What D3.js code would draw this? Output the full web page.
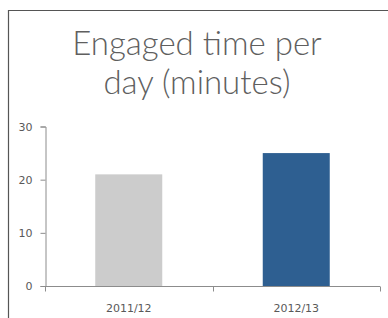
<!DOCTYPE html>
<html><head><meta charset="utf-8">
<script src="https://cdn.jsdelivr.net/npm/d3@7"></script>
<style>html,body{margin:0;padding:0;background:#fff;}svg{display:block;}</style>
</head><body>
<script>
const categories = ["2011/12", "2012/13"];
const values = [21, 25];
const colors = ["#cccccc", "#2e5f91"];
const yTicks = [0, 10, 20, 30];
const titleLines = ["Engaged time per", "day (minutes)"];

const W = 388, H = 318;
const svg = d3.select("body").append("svg").attr("width", W).attr("height", H);

// frame
svg.append("path").attr("d", `M8.5,${H+2} L8.5,10.5 L${W+2},10.5`)
  .attr("fill", "none").attr("stroke", "#555").attr("stroke-width", 1.2);

const title = svg.append("text").attr("text-anchor", "middle")
  .attr("font-family", "Lato, 'Open Sans', sans-serif").attr("font-weight", 300)
  .attr("font-size", 33).attr("fill", "#5f5f5f");
titleLines.forEach((t, i) => title.append("tspan").attr("x", 197).attr("y", 55 + i * 39).text(t));

const x = d3.scaleBand().domain(categories).range([45, 380]).paddingInner(0.6).paddingOuter(0.3);
const y = d3.scaleLinear().domain([0, 30]).range([286, 126.5]);

svg.selectAll("rect.bar").data(values).join("rect").attr("class", "bar")
  .attr("x", (d, i) => x(categories[i])).attr("width", x.bandwidth())
  .attr("y", d => y(d)).attr("height", d => y(0) - y(d))
  .attr("fill", (d, i) => colors[i]);

const yAxis = svg.append("g").attr("transform", "translate(45.5,0)")
  .call(d3.axisLeft(y).tickValues(yTicks).tickSize(5).tickPadding(8));
yAxis.select(".domain").attr("stroke", "#8c8c8c");
yAxis.selectAll(".tick line").attr("stroke", "#8c8c8c");
yAxis.selectAll("text").attr("font-family", "'DejaVu Sans', Verdana, sans-serif").attr("font-size", 11).attr("fill", "#595959");

// x axis with ticks at band boundaries
const xg = svg.append("g").attr("transform", "translate(0,286.5)");
xg.append("line").attr("x1", 45).attr("x2", 380).attr("stroke", "#8c8c8c");
const step = x.step();
const bounds = [45, 45 + (380 - 45) / categories.length, 380];
xg.selectAll("line.tk").data(bounds).join("line").attr("class", "tk")
  .attr("x1", d => Math.round(d) + 0.5).attr("x2", d => Math.round(d) + 0.5)
  .attr("y1", 0).attr("y2", 5).attr("stroke", "#8c8c8c");
xg.selectAll("text").data(categories).join("text")
  .attr("x", d => x(d) + x.bandwidth() / 2).attr("y", 25)
  .attr("text-anchor", "middle")
  .attr("font-family", "'DejaVu Sans', Verdana, sans-serif").attr("font-size", 11).attr("fill", "#595959")
  .text(d => d);
</script>
</body></html>
